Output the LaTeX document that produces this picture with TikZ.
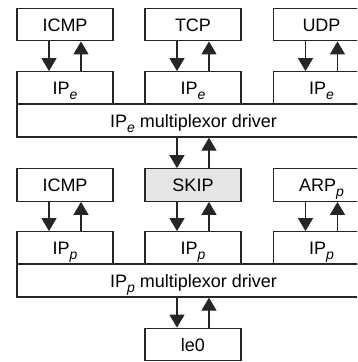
\documentclass[tikz,border=0pt]{standalone}
\usepackage{fontspec}
\setmainfont{Liberation Sans}
\usetikzlibrary{arrows.meta}
\newcommand\subit[1]{\smash{\raisebox{-5pt}{\fontsize{14}{14}\selectfont\itshape #1}}}
\begin{document}
\begin{tikzpicture}[x=1pt,y=-1pt,
  box/.style={draw=black!85, line width=1.3pt, minimum width=96pt, minimum height=32.5pt,
    inner sep=0pt, text height=13pt, text depth=0pt, font=\fontsize{18}{20}\selectfont},
  bar/.style={box, minimum width=353pt, minimum height=33pt},
  gbox/.style={box, fill=black!10},
  arr/.style={draw=black!85, line width=1.3pt, -{Triangle[width=15pt,length=13pt]}}]
\useasboundingbox (0,0) rectangle (357,362);
\begin{scope}
\clip (0,0) rectangle (357,362);
% top row
\node[box] (icmpa) at (65,24.5) {ICMP};
\node[box] (tcp)   at (193,24.5) {TCP};
\node[box] (udp)   at (321.5,24.5) {UDP};
\node[box] (ipea)  at (65,88) {IP\subit{e}};
\node[box] (ipeb)  at (193,88) {IP\subit{e}};
\node[box] (ipec)  at (321.5,88) {IP\subit{e}};
\node[bar] (muxa)  at (193.5,120.5) {IP\subit{e} multiplexor driver};
% second row
\node[box]  (icmpb) at (65,185) {ICMP};
\node[gbox] (skip)  at (193,185) {SKIP};
\node[box]  (arp)   at (321.5,185) {ARP\subit{p}};
\node[box]  (ippa)  at (65,248) {IP\subit{p}};
\node[box]  (ippb)  at (193,248) {IP\subit{p}};
\node[box]  (ippc)  at (321.5,248) {IP\subit{p}};
\node[bar]  (muxb)  at (193.5,280.5) {IP\subit{p} multiplexor driver};
\node[box]  (le)    at (193,344.5) {le0};
% arrows
\foreach \u/\l in {icmpa/ipea, tcp/ipeb, udp/ipec, icmpb/ippa, skip/ippb, arp/ippc}{
  \draw[arr] ([xshift=-16pt]\u.south) -- ([xshift=-16pt]\l.north);
  \draw[arr] ([xshift=16pt]\l.north) -- ([xshift=16pt]\u.south);
}
\draw[arr] ([xshift=-16pt]skip.north |- muxa.south) -- ([xshift=-16pt]skip.north);
\draw[arr] ([xshift=16pt]skip.north) -- ([xshift=16pt]skip.north |- muxa.south);
\draw[arr] ([xshift=-16pt]le.north |- muxb.south) -- ([xshift=-16pt]le.north);
\draw[arr] ([xshift=16pt]le.north) -- ([xshift=16pt]le.north |- muxb.south);
\end{scope}
\end{tikzpicture}
\end{document}
